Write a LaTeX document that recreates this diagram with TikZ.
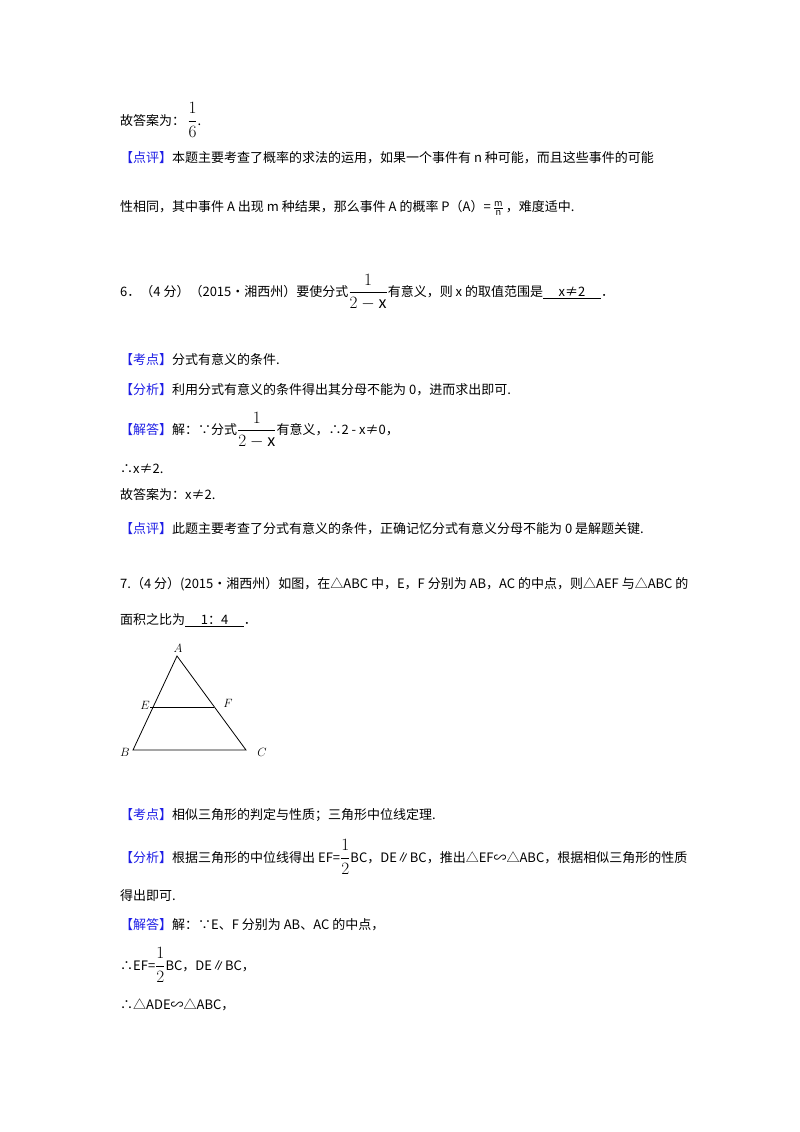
\documentclass[tikz,border=0pt]{standalone}
\usepackage{fontspec}
\setmainfont{Noto Sans CJK SC}
\usepackage{amsmath}
\definecolor{kb}{RGB}{30,30,230}
\newcommand{\tg}[1]{\textcolor{kb}{【#1】}}
\newcommand{\ul}[1]{\underline{\hspace{1.2em}#1\hspace{1.2em}}}
\newcommand{\bigfr}[2]{{\fontsize{16}{18}\selectfont$\dfrac{#1}{#2}$}}
\begin{document}
\begin{tikzpicture}[x=1pt,y=-1pt,
  ln/.style={anchor=west,inner sep=0pt,font=\fontsize{13}{15}\selectfont},
  lab/.style={inner sep=1pt,font=\fontsize{12}{14}\selectfont}]
\useasboundingbox[fill=white] (0,0) rectangle (800,1132);
\node[ln] (l1) at (120,120) {故答案为：\,\bigfr{1}{6}.};
\node[ln] (l2) at (120,158) {\tg{点评}本题主要考查了概率的求法的运用，如果一个事件有 n 种可能，而且这些事件的可能};
\node[ln] (l3) at (120,208) {性相同，其中事件 A 出现 m 种结果，那么事件 A 的概率 P（A）=\,$\frac{\mathrm{m}}{\mathrm{n}}$\,，难度适中.};
\node[ln] (l4) at (120,292) {6．（4 分）（2015•湘西州）要使分式\bigfr{1}{2-\mathrm{x}}有意义，则 x 的取值范围是\ul{x≠2}．};
\node[ln] (l5) at (120,360) {\tg{考点}分式有意义的条件.};
\node[ln] (l6) at (120,390) {\tg{分析}利用分式有意义的条件得出其分母不能为 0，进而求出即可.};
\node[ln] (l7) at (120,430) {\tg{解答}解：∵分式\bigfr{1}{2-\mathrm{x}}有意义，∴2 - x≠0，};
\node[ln] (l8) at (120,469) {∴x≠2.};
\node[ln] (l9) at (120,495) {故答案为：x≠2.};
\node[ln] (l10) at (120,529) {\tg{点评}此题主要考查了分式有意义的条件，正确记忆分式有意义分母不能为 0 是解题关键.};
\node[ln] (l11) at (120,584) {7.（4 分）(2015•湘西州）如图，在△ABC 中，E，F 分别为 AB，AC 的中点，则△AEF 与△ABC 的};
\node[ln] (l12) at (120,620) {面积之比为\ul{1：4}．};
\coordinate (A) at (177,656);
\coordinate (E) at (150,707);
\coordinate (F) at (214,707);
\coordinate (B) at (133,750);
\coordinate (C) at (246,750);
\draw[line width=0.8pt] (A) -- (B) -- (C) -- cycle;
\draw[line width=0.8pt] (E) -- (F);
\node[lab] (la) at (178,648) {$A$};
\node[lab] (le) at (145,705) {$E$};
\node[lab] (lf) at (228,703) {$F$};
\node[lab] (lb) at (125,752) {$B$};
\node[lab] (lc) at (262,752) {$C$};
\node[ln] (l13) at (120,815) {\tg{考点}相似三角形的判定与性质；三角形中位线定理.};
\node[ln] (l14) at (120,857) {\tg{分析}根据三角形的中位线得出 EF=\bigfr{1}{2}BC，DE∥BC，推出△EF∽△ABC，根据相似三角形的性质};
\node[ln] (l15) at (120,896) {得出即可.};
\node[ln] (l16) at (120,925) {\tg{解答}解：∵E、F 分别为 AB、AC 的中点，};
\node[ln] (l17) at (120,965) {∴EF=\bigfr{1}{2}BC，DE∥BC，};
\node[ln] (l18) at (120,1005) {∴△ADE∽△ABC，};
\end{tikzpicture}
\end{document}
